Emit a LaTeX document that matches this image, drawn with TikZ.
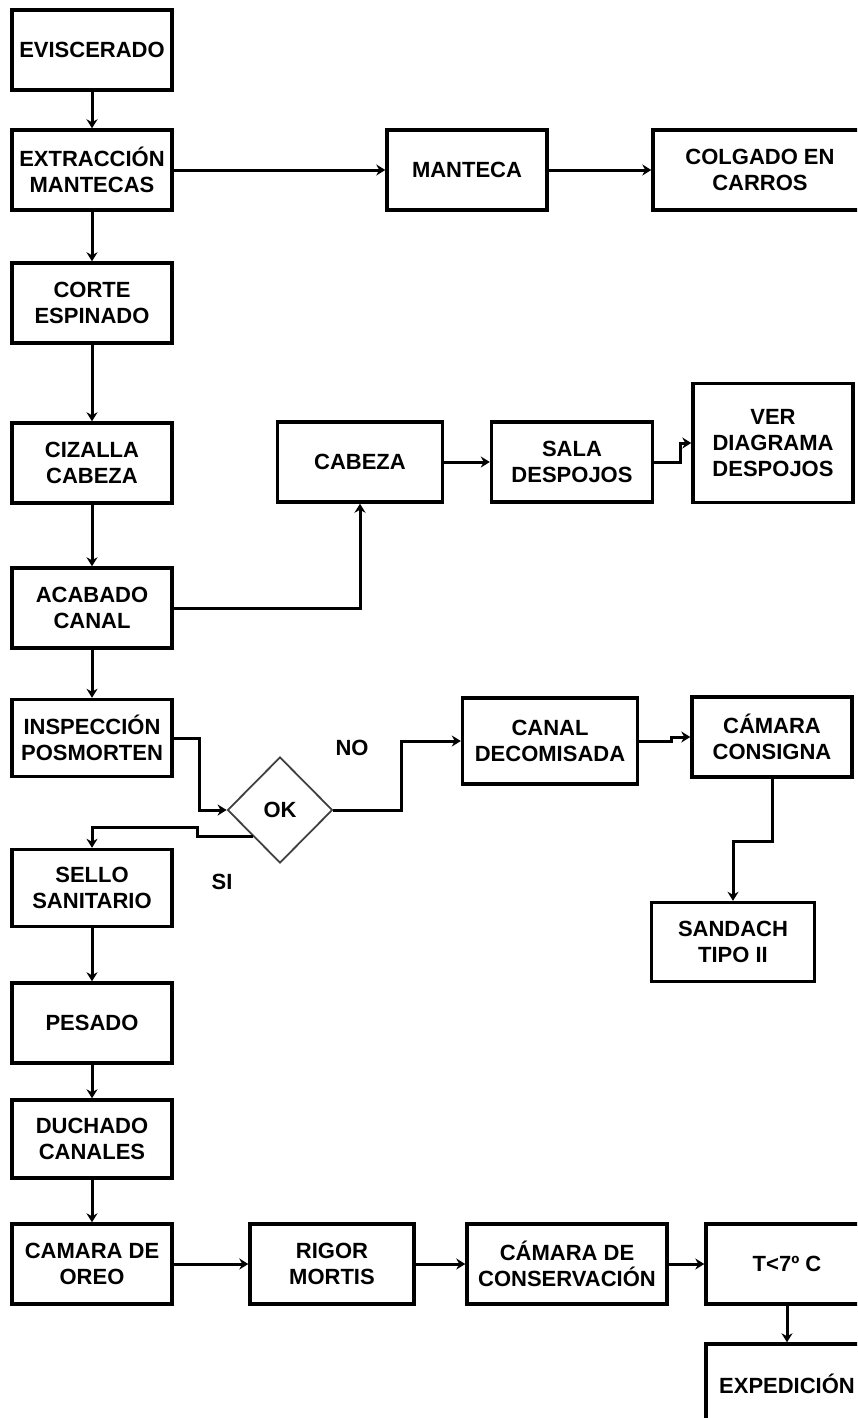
\documentclass[tikz,border=0pt]{standalone}
\usepackage{fontspec}
\setmainfont{Liberation Sans}
\usetikzlibrary{shapes.geometric,arrows.meta}
\tikzset{
  proc/.style={draw,line width=3.4pt,rectangle,minimum width=160pt,minimum height=80pt,
    align=center,inner sep=0pt,font=\fontsize{22}{26}\selectfont\bfseries},
  decision/.style={draw=black!75,line width=1.8pt,diamond,minimum width=105pt,
    minimum height=106pt,inner sep=0pt,font=\fontsize{22}{26}\selectfont\bfseries},
  flow/.style={draw,line width=3pt,-{Stealth[length=9pt,width=11pt]}},
  lbl/.style={font=\fontsize{22}{26}\selectfont\bfseries},
}
\begin{document}
\begin{tikzpicture}[x=1pt,y=-1pt]
\useasboundingbox (0,0) rectangle (857,1418);
\clip (0,0) rectangle (857,1418);
% left column
\draw 	(92,50) node[proc](evisc){EVISCERADO}
		(92,170) node[proc](extr){EXTRACCIÓN\\MANTECAS}
		(92,303) node[proc](corte){CORTE\\ESPINADO}
		(92,463) node[proc](ciz){CIZALLA\\CABEZA}
		(92,608) node[proc](acab){ACABADO\\CANAL}
		(92,738) node[proc,minimum height=77pt](insp){INSPECCIÓN\\POSMORTEN}
		(92,888) node[proc,minimum height=77pt](sello){SELLO\\SANITARIO}
		(92,1023) node[proc](pesado){PESADO}
		(92,1139) node[proc,minimum height=78pt](duch){DUCHADO\\CANALES}
		(92,1264) node[proc](oreo){CAMARA DE\\OREO};
% manteca
\draw 	(467,170) node[proc](mant){MANTECA}
		(760,170) node[proc,minimum width=214pt](colg){COLGADO EN\\CARROS};
% cabeza
\draw 	(360,462) node[proc,minimum width=165pt](cab){CABEZA}
		(572,462) node[proc,minimum width=161pt](sala){SALA\\DESPOJOS}
		(773,443) node[proc,minimum height=119pt](ver){VER\\DIAGRAMA\\DESPOJOS};
% decomiso
\draw 	(280,810) node[decision](ok){OK}
		(550,741) node[proc,minimum width=175pt,minimum height=86pt](canal){CANAL\\DECOMISADA}
		(772,737) node[proc](cam){CÁMARA\\CONSIGNA}
		(733,942) node[proc,minimum width=163pt,minimum height=79pt](sand){SANDACH\\TIPO II};
% frio
\draw 	(332,1264) node[proc,minimum width=164pt](rigor){RIGOR\\MORTIS}
		(567,1264) node[proc,minimum width=200pt](cons){CÁMARA DE\\CONSERVACIÓN}
		(787,1264) node[proc,minimum width=162pt](temp){T<7º C}
		(787,1384) node[proc,minimum width=162pt](exped){EXPEDICIÓN};
\node[lbl] (no) at (352,748) {NO};
\node[lbl] (si) at (222,882) {SI};
\path[flow]
    (evisc) edge[flow] (extr)
    (extr) edge[flow] (mant)
    (mant) edge[flow] (colg)
    (extr) edge[flow] (corte)
    (corte) edge[flow] (ciz)
    (ciz) edge[flow] (acab)
    (cab) edge[flow] (sala)
    (acab) edge[flow] (insp)
    (sello) edge[flow] (pesado)
    (pesado) edge[flow] (duch)
    (duch) edge[flow] (oreo)
    (oreo) edge[flow] (rigor)
    (rigor) edge[flow] (cons)
    (cons) edge[flow] (temp)
    (temp) edge[flow] (exped);
\draw[flow] (acab.east) -| (cab.south);
\draw[flow] (sala.east) -- ++(26,0) |- (ver.west);
\draw[flow] (insp.east) -- ++(26,0) |- (ok.west);
\draw[flow] (ok.south west) -- ++(-56,0) -- ++(0,-9) -| (sello.north);
\draw[flow] (ok.east) -- ++(68,0) |- (canal.west);
\draw[flow] (canal.east) -- ++(32,0) |- (cam.west);
\draw[flow] (cam.south) -- ++(0,63) -| (sand.north);
\end{tikzpicture}
\end{document}
